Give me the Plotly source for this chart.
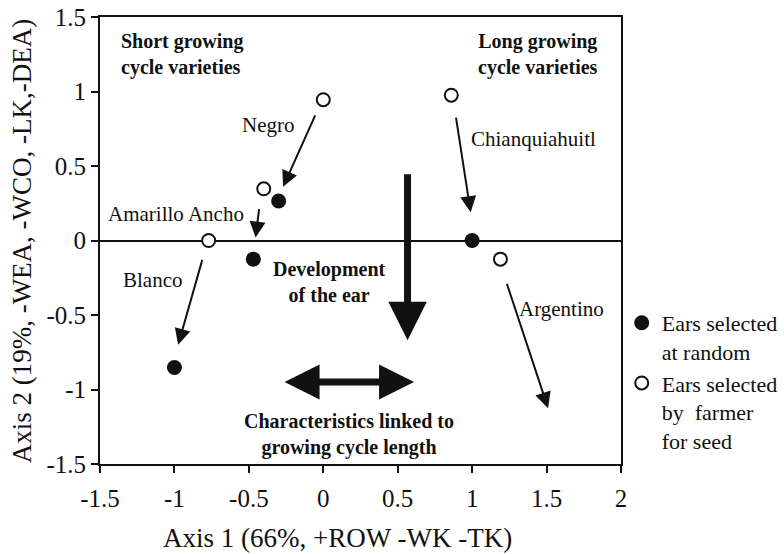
import plotly.graph_objects as go

# ---- data ----
varieties = ["Negro", "Amarillo Ancho", "Blanco", "Chianquiahuitl", "Argentino"]
random_x = [-0.30, -0.47, -1.00, 1.00]
random_y = [0.265, -0.125, -0.852, 0.00]
farmer_x = [0.00, -0.40, -0.77, 0.86, 1.19]
farmer_y = [0.945, 0.347, 0.00, 0.975, -0.125]
x_ticks = [-1.5, -1, -0.5, 0, 0.5, 1, 1.5, 2]
y_ticks = [-1.5, -1, -0.5, 0, 0.5, 1, 1.5]
legend_random = "Ears selected<br>at random"
legend_farmer = "Ears selected<br>by  farmer<br>for seed"
x_title = "Axis 1 (66%, +ROW -WK -TK)"
y_title = "Axis 2 (19%, -WEA, -WCO, -LK,-DEA)"

# arrows: (tail_x, tail_y, head_x, head_y)
variety_arrows = [
    (-0.05, 0.85, -0.27, 0.36),
    (-0.43, 0.22, -0.455, 0.02),
    (-0.81, -0.12, -0.975, -0.70),
    (0.89, 0.835, 0.99, 0.19),
    (1.23, -0.28, 1.51, -1.125),
]
# variety labels: (x, y, anchor)
variety_labels = [
    (-0.184, 0.773, "right"),
    (-0.52, 0.18, "right"),
    (-0.936, -0.262, "right"),
    (0.978, 0.68, "left"),
    (1.30, -0.457, "left"),
]

FONT = "Liberation Serif"
INK = "#111111"

fig = go.Figure()
fig.add_trace(go.Scatter(
    x=random_x, y=random_y, mode="markers", name=legend_random,
    marker=dict(symbol="circle", size=15, color=INK, line=dict(color=INK, width=0)),
))
fig.add_trace(go.Scatter(
    x=farmer_x, y=farmer_y, mode="markers", name=legend_farmer,
    marker=dict(symbol="circle", size=13, color="white", line=dict(color=INK, width=2)),
))

ann = []
for (tx, ty, hx, hy) in variety_arrows:
    ann.append(dict(x=hx, y=hy, ax=tx, ay=ty, xref="x", yref="y", axref="x", ayref="y",
                    text="", showarrow=True, arrowhead=2, arrowsize=1.6, arrowwidth=2,
                    arrowcolor=INK, standoff=0, startstandoff=0))
for name, (lx, ly, anc) in zip(varieties, variety_labels):
    ann.append(dict(x=lx, y=ly, xref="x", yref="y", text=name, showarrow=False,
                    xanchor=anc, yanchor="middle", font=dict(family=FONT, size=21, color=INK)))

# big arrows
ann.append(dict(x=0.566, y=-0.67, ax=0.566, ay=0.455, xref="x", yref="y", axref="x", ayref="y",
                text="", showarrow=True, arrowhead=2, arrowsize=1.1, arrowwidth=7,
                arrowcolor=INK, standoff=0))
ann.append(dict(x=0.61, y=-0.95, ax=-0.27, ay=-0.95, xref="x", yref="y", axref="x", ayref="y",
                text="", showarrow=True, arrowhead=2, startarrowhead=2, arrowside="end+start",
                arrowsize=1.0, startarrowsize=1.0, arrowwidth=7,
                arrowcolor=INK, standoff=0, startstandoff=0))

bold = dict(family=FONT, size=20, color=INK)
ann.append(dict(x=-1.372, y=1.246, xref="x", yref="y", text="<b>Short growing<br>cycle varieties</b>",
                showarrow=False, xanchor="left", yanchor="middle", align="left", font=bold))
ann.append(dict(x=1.858, y=1.246, xref="x", yref="y", text="<b>Long growing<br>cycle varieties</b>",
                showarrow=False, xanchor="right", yanchor="middle", align="right", font=bold))
ann.append(dict(x=0.041, y=-0.279, xref="x", yref="y", text="<b>Development<br>of the ear</b>",
                showarrow=False, xanchor="center", yanchor="middle", align="center", font=bold))
ann.append(dict(x=0.172, y=-1.30, xref="x", yref="y",
                text="<b>Characteristics linked to<br>growing cycle length</b>",
                showarrow=False, xanchor="center", yanchor="middle", align="center", font=bold))
# axis titles
ann.append(dict(x=0.455, y=-0.1655, xref="paper", yref="paper", text=x_title, showarrow=False,
                xanchor="center", yanchor="middle", font=dict(family=FONT, size=27, color=INK)))
ann.append(dict(x=-0.15, y=0.5, xref="paper", yref="paper", text=y_title, showarrow=False,
                textangle=-90, xanchor="center", yanchor="middle",
                font=dict(family=FONT, size=27, color=INK)))

fig.update_layout(
    width=784, height=554,
    margin=dict(l=100, r=163, t=17, b=90),
    plot_bgcolor="white", paper_bgcolor="white",
    font=dict(family=FONT, size=25, color=INK),
    annotations=ann,
    showlegend=True,
    legend=dict(xref="container", yref="container", x=0.793, y=0.455,
                xanchor="left", yanchor="top", valign="top",
                font=dict(family=FONT, size=22, color=INK), itemsizing="trace",
                bgcolor="rgba(0,0,0,0)", itemwidth=30, tracegroupgap=0),
)
fig.update_xaxes(range=[-1.5, 2], tickvals=x_ticks, ticktext=[f"{v:g}" for v in x_ticks],
                 showgrid=False, zeroline=False, showline=True, linecolor=INK, linewidth=2,
                 mirror=True, ticks="outside", ticklen=7, tickwidth=2, tickcolor=INK,
                 ticklabelstandoff=4, automargin=False)
fig.update_yaxes(range=[-1.5, 1.5], tickvals=y_ticks, ticktext=[f"{v:g}" for v in y_ticks],
                 showgrid=False, zeroline=True, zerolinecolor=INK, zerolinewidth=2,
                 showline=True, linecolor=INK, linewidth=2,
                 mirror=True, ticks="outside", ticklen=7, tickwidth=2, tickcolor=INK,
                 automargin=False)

fig.write_html("out.html", config={"displayModeBar": False},
               post_script="document.body.style.margin='0';")
